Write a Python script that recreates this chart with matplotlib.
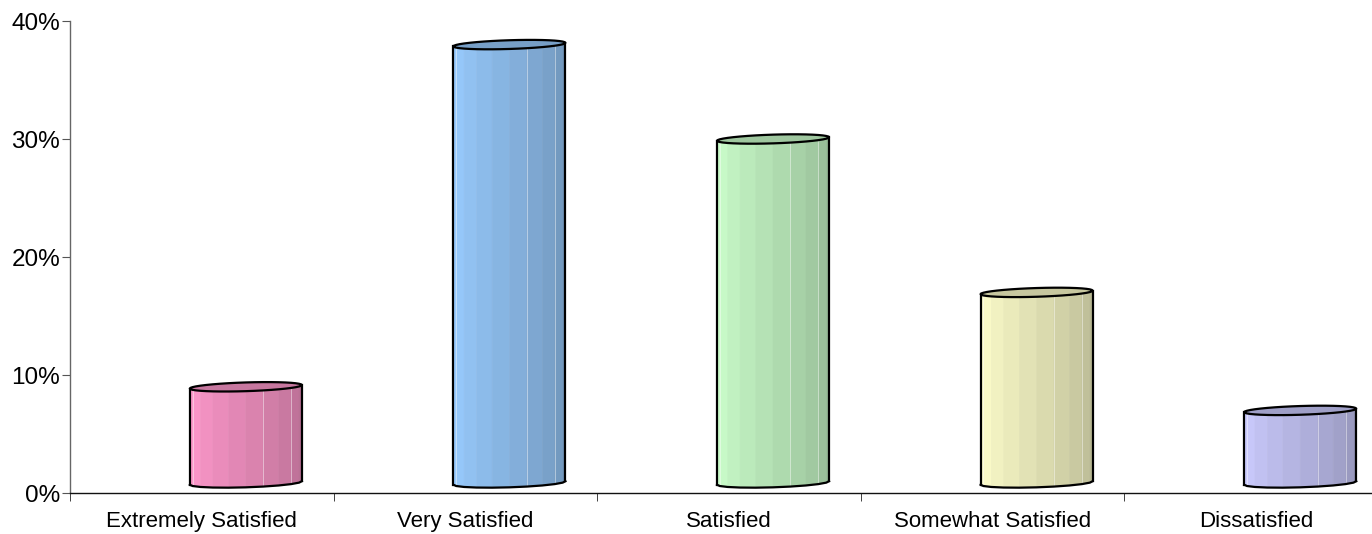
import numpy as np
import matplotlib
matplotlib.use("Agg")
import matplotlib.pyplot as plt
from matplotlib.patches import Polygon
from matplotlib.ticker import FixedLocator

plt.rcParams['font.family'] = ['Liberation Sans', 'DejaVu Sans']

categories = ["Extremely Satisfied", "Very Satisfied", "Satisfied",
              "Somewhat Satisfied", "Dissatisfied"]
values = [9, 38, 30, 17, 7]  # percent
colors = ["#FF99CC", "#99CCFF", "#CCFFCC", "#FFFFCC", "#CCCCFF"]
yticks = [0, 10, 20, 30, 40]


def shade(hexcol, f):
    c = np.array(matplotlib.colors.to_rgb(hexcol))
    return tuple(np.clip(c * f, 0, 1))


def cylinder(ax, cx, top, base_col, half_w=0.2125, b=0.37, tilt=0.15, y_bot=0.85, n=10):
    # front facets, light on the left and darker to the right
    th = np.linspace(np.pi, 2 * np.pi, n + 1)
    xs = cx + half_w * np.cos(th)
    dy = b * np.sin(th) + tilt * np.cos(th)
    for k in range(n):
        f = 1.0 - 0.28 * (k / (n - 1)) ** 1.1
        col = shade(base_col, f)
        poly = Polygon([(xs[k], y_bot + dy[k]), (xs[k + 1], y_bot + dy[k + 1]),
                        (xs[k + 1], top + dy[k + 1]), (xs[k], top + dy[k])],
                       closed=True, facecolor=col, edgecolor=col, lw=0.4, zorder=3)
        ax.add_patch(poly)
        if k in (0, 5, 7):
            ax.plot([xs[k + 1]] * 2, [y_bot + dy[k + 1], top + dy[k + 1]],
                    color=(1, 1, 1, 0.45), lw=0.7, zorder=3.5)
    # top cap
    tt = np.linspace(0, 2 * np.pi, 41)
    cap = Polygon(np.column_stack([cx + half_w * np.cos(tt),
                                   top + b * np.sin(tt) + tilt * np.cos(tt)]),
                  closed=True, facecolor=shade(base_col, 0.78), edgecolor="black",
                  lw=1.6, joinstyle="round", zorder=4)
    ax.add_patch(cap)
    # silhouette
    ax.plot([xs[0], xs[0]], [y_bot + dy[0], top + dy[0]], color="black", lw=1.6, zorder=4)
    ax.plot([xs[-1], xs[-1]], [y_bot + dy[-1], top + dy[-1]], color="black", lw=1.6, zorder=4)
    ax.plot(xs, y_bot + dy, color="black", lw=1.6, solid_joinstyle="round", zorder=4)


fig = plt.figure(figsize=(13.72, 5.34), dpi=100)
ax = fig.add_axes([70 / 1372, 41 / 534, 1318 / 1372, 472 / 534])

x = np.arange(len(categories))
for xi, v, c in zip(x, values, colors):
    cylinder(ax, xi + 0.167, v, c)

ax.set_xlim(-0.5, len(categories) - 0.5)
ax.set_ylim(0, 40)

ax.set_yticks(yticks)
ax.set_yticklabels([f"{t}%" for t in yticks])
ax.set_xticks(x)
ax.set_xticklabels(categories)
ax.xaxis.set_minor_locator(FixedLocator(np.arange(-0.5, len(categories), 1.0)))

ax.tick_params(axis="x", which="major", length=0, pad=13, labelsize=16)
ax.tick_params(axis="x", which="minor", length=6, direction="out", color="#222222")
ax.tick_params(axis="y", length=6, direction="out", pad=1, labelsize=17.5, color="#555555")

for s in ("top", "right"):
    ax.spines[s].set_visible(False)
ax.spines["left"].set_color("#666666")
ax.spines["bottom"].set_color("#111111")
ax.spines["left"].set_linewidth(1.0)
ax.spines["bottom"].set_linewidth(1.0)

fig.savefig("out.png", dpi=100)
